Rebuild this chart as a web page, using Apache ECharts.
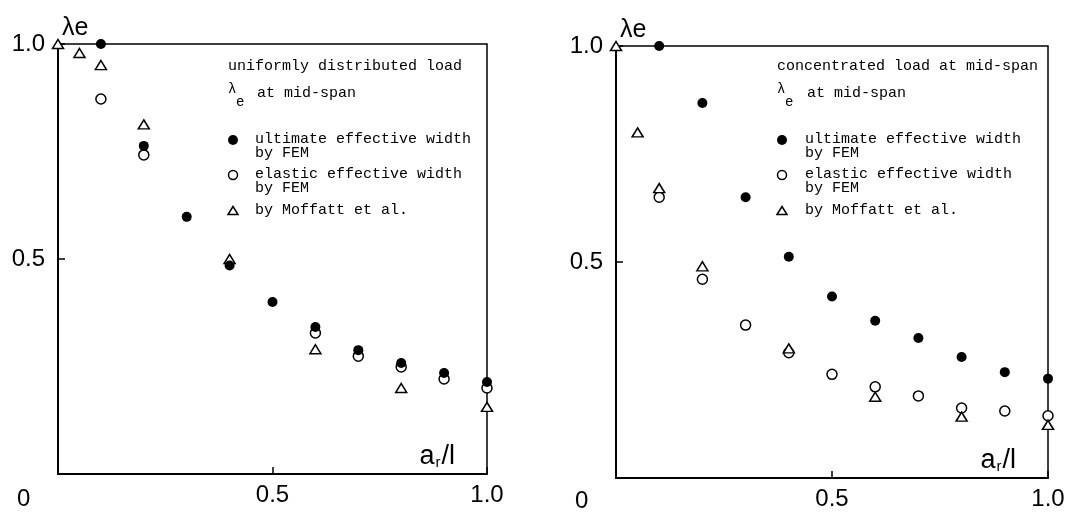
<!DOCTYPE html>
<html><head><meta charset="utf-8">
<script src="https://cdn.jsdelivr.net/npm/echarts@6/dist/echarts.min.js"></script>
<style>html,body{margin:0;padding:0;background:#fff}#c{width:1076px;height:516px}</style>
</head><body><div id="c"></div>
<script>
// ---- data ----
const xTickLabels = ['0', '0.5', '1.0'];
const yTickLabels = ['0', '0.5', '1.0'];

// Left: uniformly distributed load
const leftUltX = [0.1, 0.2, 0.3, 0.4, 0.5, 0.6, 0.7, 0.8, 0.9, 1.0];
const leftUltY = [1.0, 0.763, 0.598, 0.485, 0.40, 0.342, 0.288, 0.258, 0.235, 0.214];
const leftElaX = [0.1, 0.2, 0.6, 0.7, 0.8, 0.9, 1.0];
const leftElaY = [0.872, 0.742, 0.328, 0.274, 0.249, 0.221, 0.200];
const leftMofX = [0, 0.05, 0.1, 0.2, 0.4, 0.6, 0.8, 1.0];
const leftMofY = [1.0, 0.979, 0.951, 0.813, 0.50, 0.29, 0.20, 0.156];

// Right: concentrated load at mid-span
const rightUltX = [0.1, 0.2, 0.3, 0.4, 0.5, 0.6, 0.7, 0.8, 0.9, 1.0];
const rightUltY = [1.0, 0.868, 0.65, 0.512, 0.42, 0.364, 0.324, 0.28, 0.245, 0.23];
const rightElaX = [0.1, 0.2, 0.3, 0.4, 0.5, 0.6, 0.7, 0.8, 0.9, 1.0];
const rightElaY = [0.65, 0.46, 0.354, 0.29, 0.24, 0.211, 0.19, 0.162, 0.155, 0.144];
const rightMofX = [0, 0.05, 0.1, 0.2, 0.4, 0.6, 0.8, 1.0];
const rightMofY = [1.0, 0.80, 0.671, 0.49, 0.30, 0.188, 0.142, 0.123];

const leftTitle = 'uniformly distributed load';
const rightTitle = 'concentrated load at mid-span';
const subTitle = 'at mid-span';
const legendNames = [['ultimate effective width', 'by FEM'], ['elastic effective width', 'by FEM'], ['by Moffatt et al.']];

// ---- build ----
const pairs = (xs, ys) => xs.map((x, i) => [x, ys[i]]);
const SANS = 'Liberation Sans';
const MONO = 'Liberation Mono';

function xAxisFor(gi) {
  return {
    gridIndex: gi, type: 'value', min: 0, max: 1, interval: 0.5,
    axisLine: { show: true, lineStyle: { color: '#000', width: 2 } },
    axisTick: { show: true, inside: true, length: 7, lineStyle: { color: '#000', width: 1.5 } },
    splitLine: { show: false },
    axisLabel: { margin: 9, color: '#000', fontFamily: SANS, fontSize: 24,
      formatter: v => { const i = Math.round(v * 2); return i === 0 ? '' : xTickLabels[i]; } },
    name: '{a|a}{s|r}{a|/l}', nameLocation: 'end', nameGap: -32,
    nameTextStyle: { align: 'right', verticalAlign: 'bottom', padding: [0, 0, 4, 0], color: '#000',
      rich: { a: { fontFamily: SANS, fontSize: 27, color: '#000' }, s: { fontFamily: SANS, fontSize: 15, color: '#000', verticalAlign: 'bottom', padding: [0, 1, 0, 1] } } }
  };
}
function yAxisFor(gi) {
  return {
    gridIndex: gi, type: 'value', min: 0, max: 1, interval: 0.5,
    axisLine: { show: true, lineStyle: { color: '#000', width: 2 } },
    axisTick: { show: true, inside: true, length: 7, lineStyle: { color: '#000', width: 1.5 } },
    splitLine: { show: false },
    axisLabel: { margin: 13, color: '#000', fontFamily: SANS, fontSize: 24,
      formatter: v => { const i = Math.round(v * 2); return i === 0 ? '' : yTickLabels[i]; } },
    name: 'λe', nameLocation: 'end', nameGap: 3,
    nameTextStyle: { align: 'left', padding: [0, 0, 0, 4], color: '#000', fontFamily: SANS, fontSize: 25 }
  };
}

const mk = {
  ult: { symbol: 'circle', symbolSize: 10, itemStyle: { color: '#000', opacity: 1 }, z: 5 },
  ela: { symbol: 'circle', symbolSize: 10, itemStyle: { color: '#fff', borderColor: '#000', borderWidth: 1.5, opacity: 1 }, z: 3 },
  mof: { symbol: 'triangle', symbolSize: [11, 9], itemStyle: { color: '#fff', borderColor: '#000', borderWidth: 1.5, opacity: 1 }, z: 4 }
};
function sc(name, gi, data, kind) {
  return Object.assign({ type: 'scatter', name: name, xAxisIndex: gi, yAxisIndex: gi, data: data, clip: false, silent: true }, mk[kind]);
}

const series = [
  sc('ultimate effective width by FEM', 0, pairs(leftUltX, leftUltY), 'ult'),
  sc('elastic effective width by FEM', 0, pairs(leftElaX, leftElaY), 'ela'),
  sc('by Moffatt et al.', 0, pairs(leftMofX, leftMofY), 'mof'),
  sc('ultimate effective width by FEM', 1, pairs(rightUltX, rightUltY), 'ult'),
  sc('elastic effective width by FEM', 1, pairs(rightElaX, rightElaY), 'ela'),
  sc('by Moffatt et al.', 1, pairs(rightMofX, rightMofY), 'mof')
];

// legend blocks drawn as graphics
function legendBlock(x0, title, symX, textX) {
  const els = [];
  const ts = (t, x, y, extra) => Object.assign({ type: 'text', left: x, top: y - 8,
    style: { text: t, font: '15px ' + MONO, fill: '#000' } }, extra || {});
  els.push(ts(title, x0, 67));
  els.push({ type: 'text', left: x0, top: 82, style: { text: 'λ', font: '14px ' + MONO, fill: '#000' } });
  els.push({ type: 'text', left: x0 + 8, top: 95, style: { text: 'e', font: '14px ' + MONO, fill: '#000' } });
  els.push(ts(subTitle, textX + 2, 94));
  const rows = [140, 175, 211];
  legendNames.forEach((lines, k) => {
    lines.forEach((ln, j) => els.push(ts(ln, textX, rows[k] + j * 14)));
  });
  els.push({ type: 'circle', shape: { cx: symX, cy: rows[0], r: 5 }, style: { fill: '#000' } });
  els.push({ type: 'circle', shape: { cx: symX, cy: rows[1], r: 4.5 }, style: { fill: '#fff', stroke: '#000', lineWidth: 1.5 } });
  els.push({ type: 'polygon', shape: { points: [[symX, rows[2] - 4.5], [symX + 5, rows[2] + 3.5], [symX - 5, rows[2] + 3.5]] }, style: { fill: '#fff', stroke: '#000', lineWidth: 1.5 } });
  return els;
}

const graphics = [].concat(
  legendBlock(228, leftTitle, 233, 255),
  legendBlock(777, rightTitle, 782, 805),
  [
    { type: 'text', left: 17, top: 487, style: { text: '0', font: '24px ' + SANS, fill: '#000' } },
    { type: 'text', left: 575, top: 489, style: { text: '0', font: '24px ' + SANS, fill: '#000' } }
  ]
);

const option = {
  backgroundColor: '#fff',
  animation: false,
  grid: [
    { left: 58, top: 44, width: 429, height: 430, show: true, borderColor: '#000', borderWidth: 1.5, backgroundColor: 'transparent' },
    { left: 616, top: 46, width: 432, height: 432, show: true, borderColor: '#000', borderWidth: 1.5, backgroundColor: 'transparent' }
  ],
  xAxis: [xAxisFor(0), xAxisFor(1)],
  yAxis: [yAxisFor(0), yAxisFor(1)],
  series: series,
  graphic: graphics
};

const chart = echarts.init(document.getElementById('c'), null, { renderer: 'canvas' });
chart.setOption(option);
</script>
</body></html>
